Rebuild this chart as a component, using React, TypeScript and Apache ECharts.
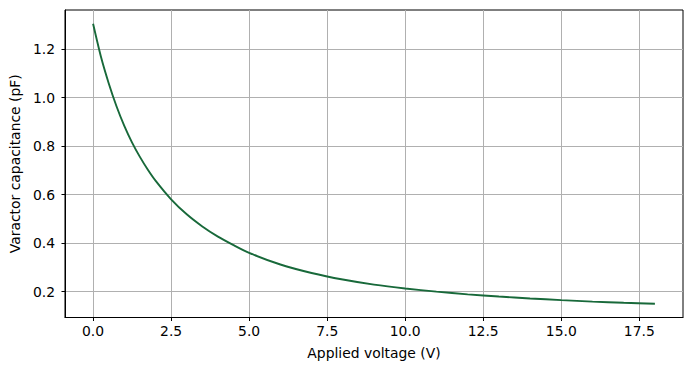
import React, { useEffect, useRef } from "react";
import * as echarts from "echarts";

const voltage = [0, 0.25, 0.5, 0.75, 1.0, 1.25, 1.5, 1.75, 2.0, 2.5, 3.0, 3.5, 4.0, 4.5, 5.0, 6.0, 7.0, 8.0, 9.0, 10, 11, 12, 13, 14, 15, 16, 17, 18];
const capacitance = [1.305, 1.17, 1.06, 0.965, 0.884, 0.815, 0.756, 0.704, 0.658, 0.581, 0.519, 0.469, 0.427, 0.392, 0.36, 0.312, 0.277, 0.25, 0.229, 0.213, 0.2, 0.189, 0.18, 0.172, 0.165, 0.159, 0.154, 0.15];
const xTicks = [0, 2.5, 5, 7.5, 10, 12.5, 15, 17.5];
const yTicks = [0.2, 0.4, 0.6, 0.8, 1.0, 1.2];

const FONT = "DejaVu Sans";

export default function App() {
  const ref = useRef<HTMLDivElement>(null);
  useEffect(() => {
    if (!ref.current) return;
    const chart = echarts.init(ref.current, null, { renderer: "svg" });
    const data = voltage.map((v, i) => [v, capacitance[i]]);
    chart.setOption({
      animation: false,
      backgroundColor: "#fff",
      grid: {
        left: 61,
        top: 10,
        right: 8,
        bottom: 53.5,
        show: true,
        borderColor: "#000",
        borderWidth: 1,
        containLabel: false,
      },
      xAxis: {
        type: "value",
        min: -0.9,
        max: 18.9,
        name: "Applied voltage (V)",
        nameLocation: "middle",
        nameGap: 28,
        nameTextStyle: { fontFamily: FONT, fontSize: 13.9, color: "#000" },
        axisLine: { show: true, onZero: false, lineStyle: { color: "#000", width: 1 } },
        axisTick: { show: true, length: 3.5, lineStyle: { color: "#000" }, customValues: xTicks },
        axisLabel: {
          customValues: xTicks,
          margin: 6,
          fontFamily: FONT,
          fontSize: 13.9,
          color: "#000",
          formatter: (v: number) => v.toFixed(1),
        },
        splitLine: { show: true, lineStyle: { color: "#b0b0b0", width: 1 } },
      },
      yAxis: {
        type: "value",
        min: 0.0934,
        max: 1.362,
        name: "Varactor capacitance (pF)",
        nameLocation: "middle",
        nameGap: 38,
        nameRotate: 90,
        nameTextStyle: { fontFamily: FONT, fontSize: 13.9, color: "#000" },
        axisLine: { show: true, onZero: false, lineStyle: { color: "#000", width: 1 } },
        axisTick: { show: true, length: 3.5, lineStyle: { color: "#000" }, customValues: yTicks },
        axisLabel: {
          customValues: yTicks,
          margin: 10,
          fontFamily: FONT,
          fontSize: 13.9,
          color: "#000",
          formatter: (v: number) => v.toFixed(1),
        },
        splitLine: { show: true, lineStyle: { color: "#b0b0b0", width: 1 } },
      },
      series: [
        {
          type: "line",
          data,
          smooth: 0.25,
          showSymbol: false,
          lineStyle: { color: "#18693a", width: 1.9 },
          itemStyle: { color: "#18693a" },
        },
      ],
    });
    return () => chart.dispose();
  }, []);
  return <div ref={ref} style={{ width: 691, height: 371, position: "absolute", left: 0, top: 0 }} />;
}
